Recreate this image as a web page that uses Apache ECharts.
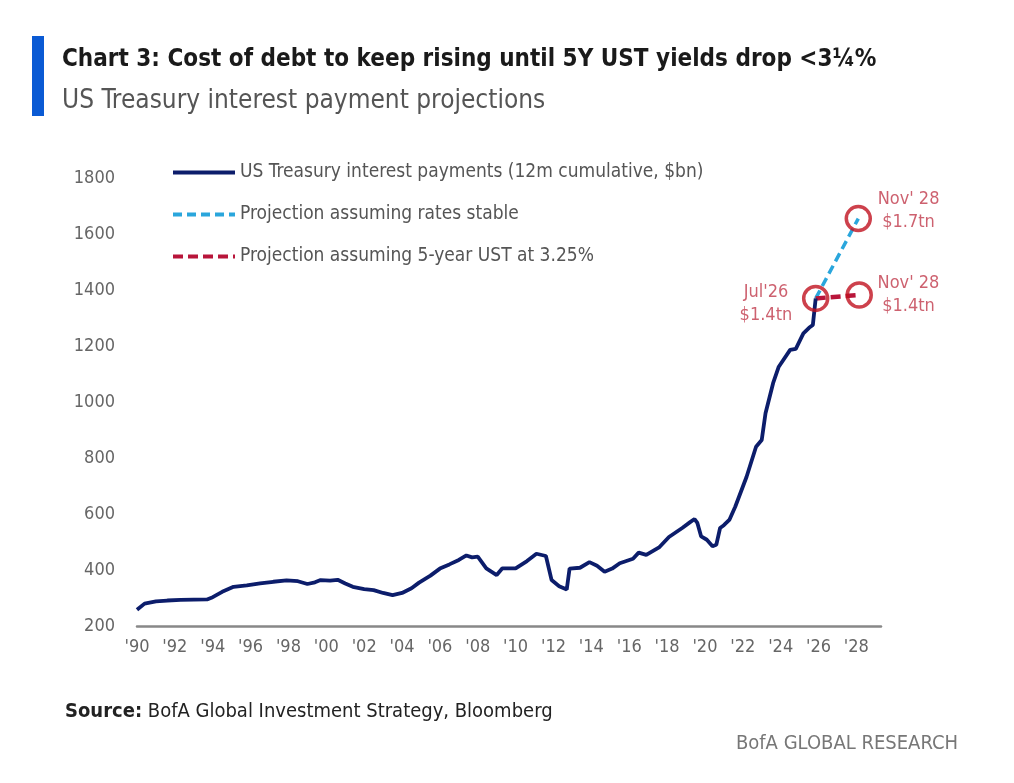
<!DOCTYPE html>
<html>
<head>
<meta charset="utf-8">
<script src="https://cdn.jsdelivr.net/npm/echarts@6/dist/echarts.min.js"></script>
<style>
html,body{margin:0;padding:0;background:#fff;}
#c{width:1014px;height:783px;}
</style>
</head>
<body>
<div id="c"></div>
<script>
// ---- data (year as decimal, value in $bn) ----
const histYears = [1990.0,1990.4,1991.0,1991.6,1992.3,1993.0,1993.7,1994.0,1994.5,1995.1,1995.8,1996.5,1997.2,1997.9,1998.5,1999.0,1999.4,1999.7,2000.2,2000.6,2001.0,2001.4,2002.0,2002.5,2003.0,2003.5,2004.0,2004.5,2004.9,2005.5,2006.0,2006.5,2007.0,2007.4,2007.7,2008.0,2008.45,2009.0,2009.3,2010.0,2010.6,2011.1,2011.6,2011.9,2012.3,2012.7,2012.85,2013.4,2013.9,2014.3,2014.7,2015.1,2015.5,2016.2,2016.5,2016.9,2017.6,2018.1,2018.8,2019.2,2019.45,2019.6,2019.8,2020.1,2020.4,2020.6,2020.8,2021.0,2021.3,2021.6,2022.2,2022.7,2023.0,2023.2,2023.6,2023.9,2024.5,2024.8,2025.2,2025.5,2025.7,2025.85];
const histValues = [258,280,288,291,293,294,295,303,322,340,345,352,358,363,360,350,356,364,362,365,352,340,332,328,318,310,318,335,355,380,405,420,436,452,445,448,406,382,406,406,432,458,450,364,342,330,405,408,428,415,394,405,424,440,462,454,482,518,550,570,582,568,520,508,485,490,550,560,580,626,733,840,864,960,1067,1126,1186,1190,1245,1265,1275,1370];
const stableYears = [2025.85, 2028.1];
const stableValues = [1370, 1655];
const ratesYears = [2025.85, 2028.15];
const ratesValues = [1370, 1382];
const markerYears = [2025.85, 2028.1, 2028.15];
const markerValues = [1370, 1655, 1382];
const markerLabels = ["Jul'26\n$1.4tn", "Nov' 28\n$1.7tn", "Nov' 28\n$1.4tn"];
const seriesNames = ["US Treasury interest payments (12m cumulative, $bn)", "Projection assuming rates stable", "Projection assuming 5-year UST at 3.25%"];
const yTicks = [200, 1800, 200]; // min, max, interval

const zip = (xs, ys) => xs.map((x, i) => [x, ys[i]]);
const FONT = "'Liberation Sans Narrow','DejaVu Sans Condensed','Open Sans',sans-serif";
const labelPos = [[-36, 19], [64, 6], [63, 14]];

const chart = echarts.init(document.getElementById('c'), null, {renderer: 'canvas'});
chart.setOption({
  backgroundColor: '#ffffff',
  animation: false,
  title: [
    {text: 'Chart 3: Cost of debt to keep rising until 5Y UST yields drop <3\u00BC%', left: 57, top: 43,
     textStyle: {fontFamily: FONT, fontSize: 24, fontWeight: 'bold', color: '#1a1a1a'}},
    {text: 'US Treasury interest payment projections', left: 57, top: 83,
     textStyle: {fontFamily: FONT, fontSize: 26, fontWeight: 'normal', color: '#555'}},
    {text: '{b|Source:} BofA Global Investment Strategy, Bloomberg', left: 60, top: 697,
     textStyle: {fontFamily: FONT, fontSize: 20, fontWeight: 'normal', color: '#222', rich: {b: {fontFamily: FONT, fontSize: 20, fontWeight: 'bold', color: '#222'}}}},
    {text: 'BofA GLOBAL RESEARCH', right: 51, top: 729,
     textStyle: {fontFamily: FONT, fontSize: 20, fontWeight: 'normal', color: '#777'}}
  ],
  graphic: [
    {type: 'rect', left: 32, top: 36, shape: {width: 12, height: 80}, style: {fill: '#0a5ad4'}}
  ],
  legend: {
    orient: 'vertical', left: 166, top: 158, itemWidth: 62, itemHeight: 14, itemGap: 23,
    itemStyle: {opacity: 0},
    lineStyle: {width: 4},
    textStyle: {fontFamily: FONT, fontSize: 19, color: '#555'},
    data: seriesNames
  },
  grid: {left: 137, right: 133, top: 178, bottom: 157, containLabel: false},
  xAxis: {
    type: 'value', min: 1990, max: 2029.3, interval: 2,
    axisLine: {show: true, lineStyle: {color: '#888', width: 2.5}},
    axisTick: {show: false}, splitLine: {show: false},
    axisLabel: {fontFamily: FONT, fontSize: 18, color: '#666', margin: 12, showMaxLabel: false,
      formatter: v => (Math.abs(v - Math.round(v)) < 1e-6 && Math.round(v) % 2 === 0) ? "'" + String(Math.round(v)).slice(2) : ''}
  },
  yAxis: {
    type: 'value', min: yTicks[0], max: yTicks[1], interval: yTicks[2],
    axisLine: {show: false}, axisTick: {show: false}, splitLine: {show: false},
    axisLabel: {fontFamily: FONT, fontSize: 18, color: '#666', margin: 22, formatter: v => String(v)}
  },
  series: [
    {name: seriesNames[0], type: 'line', symbol: 'none', data: zip(histYears, histValues),
     lineStyle: {color: '#0c1d6b', width: 3.8}, itemStyle: {color: '#0c1d6b'}, z: 3},
    {name: seriesNames[1], type: 'line', symbol: 'none', data: zip(stableYears, stableValues),
     lineStyle: {color: '#2aa6dc', width: 3.5, type: [9, 5]}, itemStyle: {color: '#2aa6dc'}, z: 2},
    {name: seriesNames[2], type: 'line', symbol: 'none', data: zip(ratesYears, ratesValues),
     lineStyle: {color: '#b8153a', width: 4.5, type: [10, 5]}, itemStyle: {color: '#b8153a'}, z: 2},
    {type: 'scatter', symbol: 'circle', symbolSize: 24, z: 5,
     itemStyle: {color: 'rgba(0,0,0,0)', borderColor: '#c0121f', borderWidth: 3.5},
     data: markerYears.map((x, i) => ({
       value: [x, markerValues[i]],
       label: {show: true, formatter: markerLabels[i], position: labelPos[i],
               align: 'center', verticalAlign: 'middle', fontFamily: FONT, fontSize: 18, lineHeight: 23, color: '#c0394b'}
     }))}
  ]
});
</script>
</body>
</html>
